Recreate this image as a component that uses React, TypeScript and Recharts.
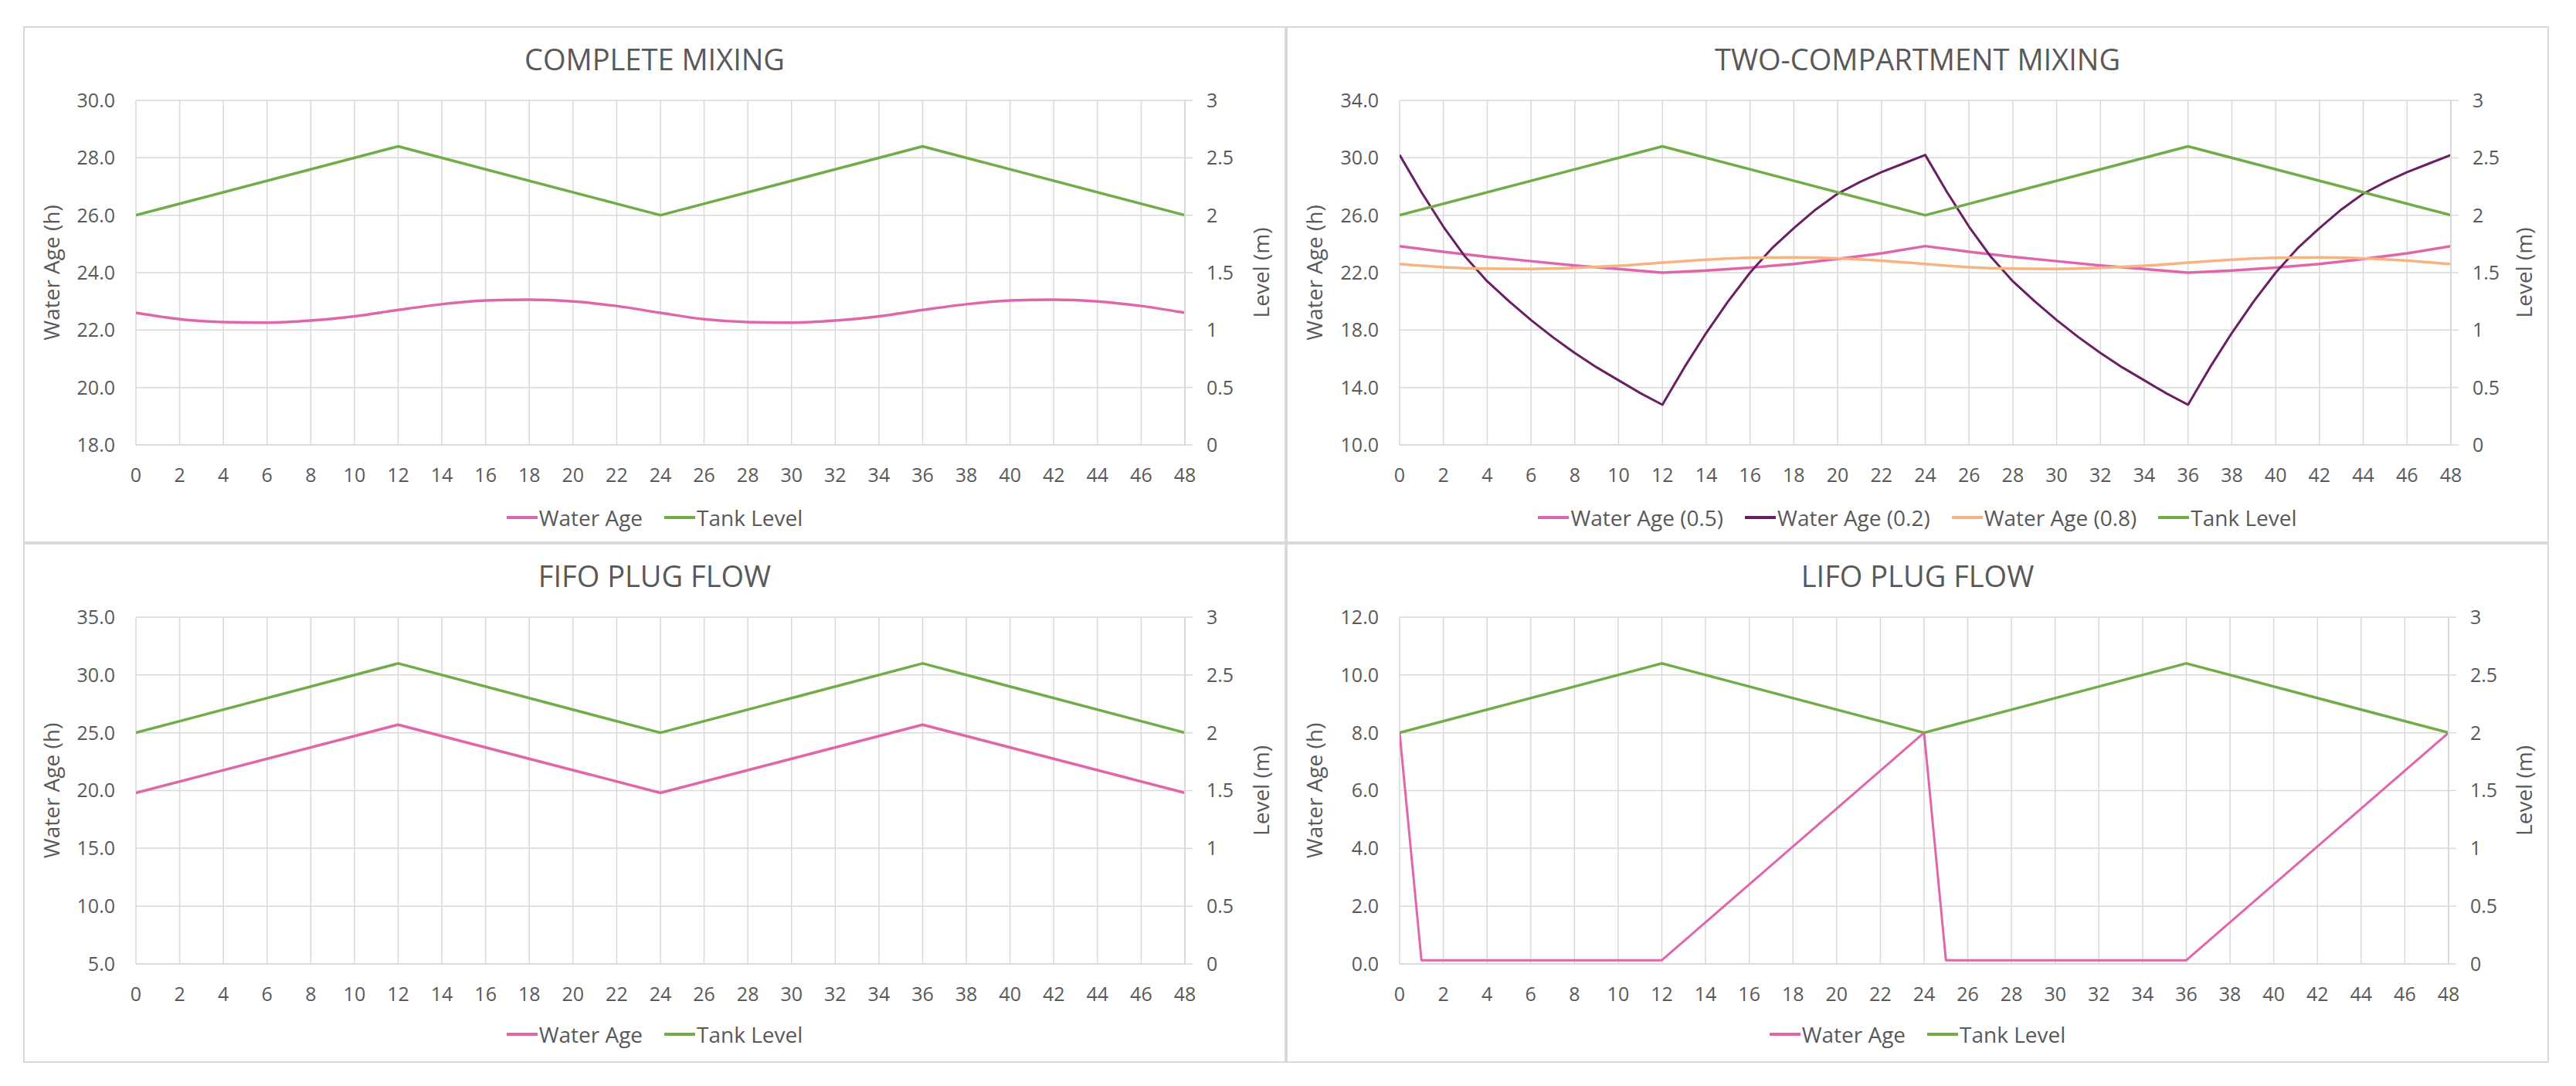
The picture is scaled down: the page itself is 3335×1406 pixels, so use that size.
import React from "react";
import { CartesianGrid, Line, LineChart, XAxis, YAxis } from "recharts";

// x axis: hours
const hourTicks = [0, 2, 4, 6, 8, 10, 12, 14, 16, 18, 20, 22, 24, 26, 28, 30, 32, 34, 36, 38, 40, 42, 44, 46, 48];
const hourly = [
  0, 1, 2, 3, 4, 5, 6, 7, 8, 9, 10, 11, 12, 13, 14, 15, 16, 17, 18, 19, 20, 21, 22, 23, 24,
  25, 26, 27, 28, 29, 30, 31, 32, 33, 34, 35, 36, 37, 38, 39, 40, 41, 42, 43, 44, 45, 46, 47, 48,
];
const levelTicks = [0, 0.5, 1, 1.5, 2, 2.5, 3];

// tank level (same fill/drain cycle in every panel)
const tankHours = [0, 12, 24, 36, 48];
const tankLevel = [2.0, 2.6, 2.0, 2.6, 2.0];

// complete mixing
const mixTicks = [18, 20, 22, 24, 26, 28, 30];
const mixAge = [
  22.6, 22.38, 22.28, 22.26, 22.33, 22.48, 22.7, 22.9, 23.03, 23.06, 23.0, 22.84, 22.6,
  22.38, 22.28, 22.26, 22.33, 22.48, 22.7, 22.9, 23.03, 23.06, 23.0, 22.84, 22.6,
];

// two-compartment mixing
const twoTicks = [10, 14, 18, 22, 26, 30, 34];
const twoAge05 = [
  23.85, 23.45, 23.1, 22.8, 22.5, 22.25, 22.0, 22.15, 22.35, 22.6, 22.95, 23.35, 23.85,
  23.45, 23.1, 22.8, 22.5, 22.25, 22.0, 22.15, 22.35, 22.6, 22.95, 23.35, 23.85,
];
const twoAge02 = [
  30.2, 27.6, 25.2, 23.1, 21.4, 20.0, 18.7, 17.5, 16.4, 15.4, 14.5, 13.6, 12.8,
  15.4, 17.8, 20.0, 22.0, 23.7, 25.1, 26.4, 27.5, 28.3, 29.0, 29.6, 30.2,
  27.6, 25.2, 23.1, 21.4, 20.0, 18.7, 17.5, 16.4, 15.4, 14.5, 13.6, 12.8,
  15.4, 17.8, 20.0, 22.0, 23.7, 25.1, 26.4, 27.5, 28.3, 29.0, 29.6, 30.2,
];
const twoAge08 = [
  22.6, 22.38, 22.28, 22.26, 22.33, 22.48, 22.7, 22.9, 23.03, 23.06, 23.0, 22.84, 22.6,
  22.38, 22.28, 22.26, 22.33, 22.48, 22.7, 22.9, 23.03, 23.06, 23.0, 22.84, 22.6,
];

// FIFO plug flow
const fifoTicks = [5, 10, 15, 20, 25, 30, 35];
const fifoHours = [0, 12, 24, 36, 48];
const fifoAge = [19.8, 25.7, 19.8, 25.7, 19.8];

// LIFO plug flow
const lifoTicks = [0, 2, 4, 6, 8, 10, 12];
const lifoHours = [0, 1, 12, 24, 25, 36, 48];
const lifoAge = [8.0, 0.13, 0.13, 8.0, 0.13, 0.13, 8.0];

const FONT = "'Open Sans', 'DejaVu Sans', sans-serif";
const TEXT = "#595959";
const GRID = "#d9d9d9";
const PINK = "#E066AC";
const GREEN = "#70AD47";
const PURPLE = "#6B1F63";
const ORANGE = "#F5B482";

type Series = {
  name: string;
  color: string;
  axis: "left" | "right";
  hours: number[];
  values: number[];
  curve: "monotone" | "linear";
  width?: number;
};

const toPoints = (hours: number[], values: number[]) =>
  hours.map((h, i) => ({ h, v: values[i] }));

const tankSeries: Series = {
  name: "Tank Level",
  color: GREEN,
  axis: "right",
  hours: tankHours,
  values: tankLevel,
  curve: "linear",
};

interface PanelProps {
  left: number;
  top: number;
  width: number;
  height: number;
  title: string;
  plot: { l: number; r: number; t: number; b: number };
  ageTicks: number[];
  series: Series[];
}

const Panel = ({ left, top, width, height, title, plot, ageTicks, series }: PanelProps) => {
  const { l, r, t, b } = plot;
  const tickStyle = { fill: TEXT, fontSize: 25, fontFamily: FONT };
  return (
    <div
      style={{
        position: "absolute",
        left,
        top,
        width,
        height,
        boxShadow: `inset 0 0 0 2px ${GRID}`,
        background: "#fff",
      }}
    >
      <div
        style={{
          position: "absolute",
          left: 0,
          top: 18,
          width: "100%",
          textAlign: "center",
          fontSize: 38,
          lineHeight: "48px",
          color: TEXT,
          fontFamily: FONT,
        }}
      >
        {title}
      </div>
      <LineChart
        width={width}
        height={height}
        margin={{ top: t, right: 0, bottom: 0, left: 0 }}
        style={{ position: "absolute", left: 0, top: 0 }}
      >
        <CartesianGrid stroke={GRID} strokeWidth={1.5} yAxisId="left" />
        <XAxis
          dataKey="h"
          type="number"
          domain={[0, 48]}
          ticks={hourTicks}
          interval={0}
          allowDataOverflow
          height={height - b}
          tickLine={false}
          tickSize={0}
          tickMargin={30}
          axisLine={{ stroke: GRID, strokeWidth: 2 }}
          tick={tickStyle}
        />
        <YAxis
          yAxisId="left"
          type="number"
          domain={[ageTicks[0], ageTicks[ageTicks.length - 1]]}
          ticks={ageTicks}
          interval={0}
          allowDataOverflow
          width={l}
          axisLine={false}
          tickLine={false}
          tickSize={0}
          tickMargin={27}
          tick={tickStyle}
          tickFormatter={(v: number) => v.toFixed(1)}
          label={{
            value: "Water Age (h)",
            angle: -90,
            position: "center",
            dx: 37 - l / 2,
            fill: TEXT,
            fontSize: 28,
            fontFamily: FONT,
          }}
        />
        <YAxis
          yAxisId="right"
          orientation="right"
          type="number"
          domain={[0, 3]}
          ticks={levelTicks}
          interval={0}
          allowDataOverflow
          width={width - r}
          axisLine={{ stroke: GRID, strokeWidth: 2 }}
          tickLine={{ stroke: GRID, strokeWidth: 1.5 }}
          tickSize={10}
          tickMargin={18}
          tick={tickStyle}
          label={{
            value: "Level (m)",
            angle: -90,
            position: "center",
            dx: 1603 - (r + (width - r) / 2),
            fill: TEXT,
            fontSize: 28,
            fontFamily: FONT,
          }}
        />
        {series.map((s) => (
          <Line
            key={s.name}
            name={s.name}
            yAxisId={s.axis}
            data={toPoints(s.hours, s.values)}
            dataKey="v"
            type={s.curve}
            stroke={s.color}
            strokeWidth={s.width ?? 3.5}
            strokeLinejoin="round"
            dot={false}
            activeDot={false}
            isAnimationActive={false}
          />
        ))}
      </LineChart>
      <div
        style={{
          position: "absolute",
          left: 0,
          top: 616,
          width: "100%",
          height: 40,
          display: "flex",
          justifyContent: "center",
          alignItems: "center",
          gap: 28,
          fontFamily: FONT,
          fontSize: 28,
          color: TEXT,
        }}
      >
        {series.map((s) => (
          <div key={s.name} style={{ display: "flex", alignItems: "center" }}>
            <span style={{ display: "inline-block", width: 40, height: 4, background: s.color, marginRight: 2 }} />
            <span>{s.name}</span>
          </div>
        ))}
      </div>
    </div>
  );
};

export default function App() {
  return (
    <div style={{ position: "absolute", left: 0, top: 0, width: 3335, height: 1406, background: "#fff" }}>
      <Panel
        left={30}
        top={34}
        width={1635}
        height={669}
        title="COMPLETE MIXING"
        plot={{ l: 146, r: 1504, t: 96, b: 542 }}
        ageTicks={mixTicks}
        series={[
          { name: "Water Age", color: PINK, axis: "left", hours: hourTicks, values: mixAge, curve: "monotone" },
          tankSeries,
        ]}
      />
      <Panel
        left={1665}
        top={34}
        width={1635}
        height={669}
        title="TWO-COMPARTMENT MIXING"
        plot={{ l: 147, r: 1508, t: 96, b: 542 }}
        ageTicks={twoTicks}
        series={[
          { name: "Water Age (0.5)", color: PINK, axis: "left", hours: hourTicks, values: twoAge05, curve: "linear" },
          { name: "Water Age (0.2)", color: PURPLE, axis: "left", hours: hourly, values: twoAge02, curve: "linear", width: 3 },
          { name: "Water Age (0.8)", color: ORANGE, axis: "left", hours: hourTicks, values: twoAge08, curve: "monotone" },
          tankSeries,
        ]}
      />
      <Panel
        left={30}
        top={703}
        width={1635}
        height={673}
        title="FIFO PLUG FLOW"
        plot={{ l: 146, r: 1504, t: 96, b: 545 }}
        ageTicks={fifoTicks}
        series={[
          { name: "Water Age", color: PINK, axis: "left", hours: fifoHours, values: fifoAge, curve: "linear" },
          tankSeries,
        ]}
      />
      <Panel
        left={1665}
        top={703}
        width={1635}
        height={673}
        title="LIFO PLUG FLOW"
        plot={{ l: 147, r: 1505, t: 96, b: 545 }}
        ageTicks={lifoTicks}
        series={[
          { name: "Water Age", color: PINK, axis: "left", hours: lifoHours, values: lifoAge, curve: "linear", width: 3 },
          tankSeries,
        ]}
      />
    </div>
  );
}
